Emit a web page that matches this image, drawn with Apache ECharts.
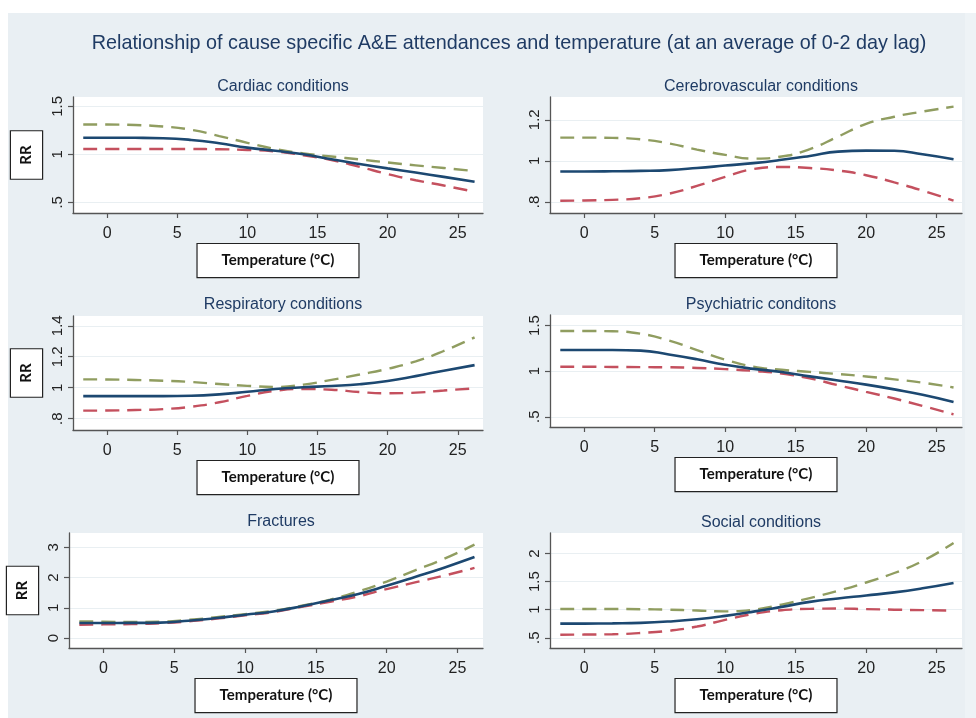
<!DOCTYPE html>
<html>
<head>
<meta charset="utf-8">
<script src="https://cdn.jsdelivr.net/npm/echarts@6/dist/echarts.min.js"></script>
<style>
html,body{margin:0;padding:0;background:#fff;}
#chart{width:976px;height:718px;}
</style>
</head>
<body>
<div id="chart"></div>
<script>
// ---------- data ----------
const mainTitle = 'Relationship of cause specific A&E attendances and temperature (at an average of 0-2 day lag)';
const panelTitles = ['Cardiac conditions', 'Cerebrovascular conditions', 'Respiratory conditions', 'Psychiatric conditons', 'Fractures', 'Social conditions'];
const xTitle = 'Temperature (°C)';
const yTitle = 'RR';
const xTicks = [0, 5, 10, 15, 20, 25];
const temps = [-1.7, 0, 2, 4, 6, 8, 10, 12, 14, 16, 18, 20, 22, 24, 26.2];

const cardiacRR = [1.173, 1.173, 1.172, 1.168, 1.15, 1.115, 1.07, 1.037, 1.0, 0.948, 0.90, 0.854, 0.81, 0.765, 0.715];
const cardiacHi = [1.31, 1.31, 1.305, 1.29, 1.255, 1.19, 1.12, 1.055, 1.01, 0.977, 0.947, 0.915, 0.885, 0.858, 0.826];
const cardiacLo = [1.055, 1.055, 1.055, 1.055, 1.055, 1.053, 1.045, 1.03, 0.99, 0.94, 0.87, 0.795, 0.73, 0.675, 0.61];
const cardiacTicks = [0.5, 1, 1.5];

const cerebroRR = [0.948, 0.948, 0.949, 0.951, 0.955, 0.965, 0.977, 0.989, 1.005, 1.024, 1.045, 1.05, 1.049, 1.032, 1.008];
const cerebroHi = [1.113, 1.113, 1.112, 1.105, 1.085, 1.055, 1.029, 1.011, 1.021, 1.057, 1.118, 1.18, 1.215, 1.24, 1.264];
const cerebroLo = [0.806, 0.807, 0.81, 0.818, 0.84, 0.878, 0.922, 0.96, 0.97, 0.965, 0.953, 0.93, 0.895, 0.855, 0.806];
const cerebroTicks = [0.8, 1, 1.2];

const respRR = [0.946, 0.946, 0.946, 0.946, 0.948, 0.957, 0.974, 0.992, 1.003, 1.011, 1.022, 1.043, 1.075, 1.11, 1.146];
const respHi = [1.054, 1.053, 1.05, 1.045, 1.037, 1.024, 1.012, 1.005, 1.02, 1.051, 1.085, 1.122, 1.17, 1.237, 1.325];
const respLo = [0.852, 0.853, 0.856, 0.862, 0.877, 0.906, 0.947, 0.98, 0.991, 0.987, 0.972, 0.964, 0.968, 0.982, 0.996];
const respTicks = [0.8, 1, 1.2, 1.4];

const psychRR = [1.231, 1.231, 1.231, 1.225, 1.182, 1.13, 1.07, 1.025, 0.99, 0.943, 0.898, 0.852, 0.8, 0.742, 0.663];
const psychHi = [1.44, 1.44, 1.437, 1.41, 1.335, 1.23, 1.126, 1.05, 1.015, 0.992, 0.968, 0.942, 0.91, 0.874, 0.821];
const psychLo = [1.048, 1.048, 1.046, 1.044, 1.042, 1.035, 1.022, 1.003, 0.974, 0.92, 0.846, 0.773, 0.7, 0.619, 0.527];
const psychTicks = [0.5, 1, 1.5];

const fracRR = [0.497, 0.497, 0.5, 0.51, 0.57, 0.66, 0.77, 0.88, 1.05, 1.25, 1.46, 1.73, 2.02, 2.32, 2.68];
const fracHi = [0.55, 0.54, 0.53, 0.54, 0.6, 0.69, 0.79, 0.9, 1.07, 1.27, 1.54, 1.87, 2.24, 2.61, 3.09];
const fracLo = [0.44, 0.45, 0.46, 0.49, 0.55, 0.64, 0.75, 0.86, 1.03, 1.2, 1.38, 1.62, 1.84, 2.06, 2.32];
const fracTicks = [0, 1, 2, 3];

const socialRR = [0.751, 0.752, 0.756, 0.765, 0.79, 0.83, 0.89, 0.965, 1.05, 1.139, 1.2, 1.253, 1.308, 1.38, 1.475];
const socialHi = [1.012, 1.012, 1.012, 1.008, 1.0, 0.985, 0.97, 1.0, 1.09, 1.207, 1.335, 1.484, 1.653, 1.866, 2.187];
const socialLo = [0.555, 0.557, 0.563, 0.585, 0.625, 0.7, 0.82, 0.925, 0.99, 1.015, 1.02, 1.01, 1.0, 0.992, 0.983];
const socialTicks = [0.5, 1, 1.5, 2];

// ---------- layout ----------
const panels = [
  {rr: cardiacRR, hi: cardiacHi, lo: cardiacLo, ticks: cardiacTicks, yMin: 0.389, yMax: 1.597, grid: {left: 73, top: 97, width: 410, height: 116}, titleTop: 74, showY: true, nameGap: 29},
  {rr: cerebroRR, hi: cerebroHi, lo: cerebroLo, ticks: cerebroTicks, yMin: 0.746, yMax: 1.311, grid: {left: 550, top: 97, width: 412, height: 116}, titleTop: 74, showY: false, nameGap: 29},
  {rr: respRR, hi: respHi, lo: respLo, ticks: respTicks, yMin: 0.727, yMax: 1.463, grid: {left: 73, top: 316, width: 410, height: 114}, titleTop: 292, showY: true, nameGap: 30},
  {rr: psychRR, hi: psychHi, lo: psychLo, ticks: psychTicks, yMin: 0.388, yMax: 1.615, grid: {left: 550, top: 315, width: 412, height: 112}, titleTop: 292, showY: false, nameGap: 29},
  {rr: fracRR, hi: fracHi, lo: fracLo, ticks: fracTicks, yMin: -0.331, yMax: 3.477, grid: {left: 69, top: 533, width: 414, height: 115}, titleTop: 509, showY: true, nameGap: 31},
  {rr: socialRR, hi: socialHi, lo: socialLo, ticks: socialTicks, yMin: 0.318, yMax: 2.365, grid: {left: 550, top: 533, width: 412, height: 115}, titleTop: 510, showY: false, nameGap: 31}
];

const navy = '#1c4871';
const red = '#c4505e';
const green = '#909d60';
const titleColor = '#1f3b64';
const fmtY = v => String(v).replace(/^0\./, '.');

const option = {
  backgroundColor: '#ffffff',
  animation: false,
  graphic: [
    {type: 'rect', left: 8, top: 13, shape: {width: 957, height: 705}, style: {fill: '#e9eff3'}, z: -10},
    {type: 'rect', left: 965, top: 13, shape: {width: 11, height: 705}, style: {fill: '#eef3f6'}, z: -10}
  ],
  title: [{
    text: mainTitle, left: 504, top: 29, textAlign: 'center',
    textStyle: {fontFamily: 'Liberation Sans', fontSize: 19.8, fontWeight: 'normal', color: titleColor}
  }],
  grid: [], xAxis: [], yAxis: [], series: []
};

panels.forEach((p, i) => {
  option.grid.push(Object.assign({show: true, backgroundColor: '#ffffff', borderWidth: 0}, p.grid));
  option.title.push({
    text: panelTitles[i], left: p.grid.left + p.grid.width / 2, top: p.titleTop, textAlign: 'center',
    textStyle: {fontFamily: 'Liberation Sans', fontSize: 16, fontWeight: 'normal', color: titleColor}
  });
  option.xAxis.push({
    type: 'value', gridIndex: i, min: -2.43, max: 26.8,
    name: xTitle, nameLocation: 'middle', nameGap: p.nameGap,
    nameTextStyle: {fontFamily: 'Lato', fontWeight: 'bold', fontSize: 15, color: '#111', backgroundColor: '#fff',
      borderColor: '#222', borderWidth: 1.2, padding: [9, 24, 9, 24]},
    axisLine: {show: true, onZero: false, lineStyle: {color: '#555', width: 1.3}},
    axisTick: {show: true, length: 5, customValues: xTicks, lineStyle: {color: '#555', width: 1.2}},
    axisLabel: {customValues: xTicks, margin: 13, fontFamily: 'Liberation Sans', fontSize: 16, color: '#222'},
    splitLine: {show: false}
  });
  option.yAxis.push({
    type: 'value', gridIndex: i, min: p.yMin, max: p.yMax,
    name: p.showY ? yTitle : '', nameLocation: 'middle', nameGap: 31, nameRotate: 90,
    nameTextStyle: {fontFamily: 'Lato', fontWeight: 'bold', fontSize: 15, color: '#111', backgroundColor: '#fff',
      borderColor: '#222', borderWidth: 1.2, padding: [8, 14, 8, 14]},
    axisLine: {show: true, onZero: false, lineStyle: {color: '#555', width: 1.3}},
    axisTick: {show: true, length: 5, customValues: p.ticks, lineStyle: {color: '#555', width: 1.2}},
    axisLabel: {customValues: p.ticks, rotate: 90, margin: 8, formatter: fmtY, fontFamily: 'Liberation Sans', fontSize: 15, color: '#222'},
    splitLine: {show: true, lineStyle: {color: '#e9eff2', width: 1.2}}
  });
  const mk = (arr) => temps.map((t, k) => [t, arr[k]]);
  const common = {type: 'line', xAxisIndex: i, yAxisIndex: i, showSymbol: false, symbol: 'none', smooth: 0.5, silent: true};
  option.series.push(Object.assign({}, common, {name: 'upper', data: mk(p.hi), lineStyle: {color: green, width: 2.4, type: [14, 8]}}));
  option.series.push(Object.assign({}, common, {name: 'lower', data: mk(p.lo), lineStyle: {color: red, width: 2.4, type: [14, 8]}}));
  option.series.push(Object.assign({}, common, {name: 'RR', data: mk(p.rr), lineStyle: {color: navy, width: 2.6}}));
});

const chart = echarts.init(document.getElementById('chart'), null, {renderer: 'canvas'});
chart.setOption(option);
</script>
</body>
</html>
